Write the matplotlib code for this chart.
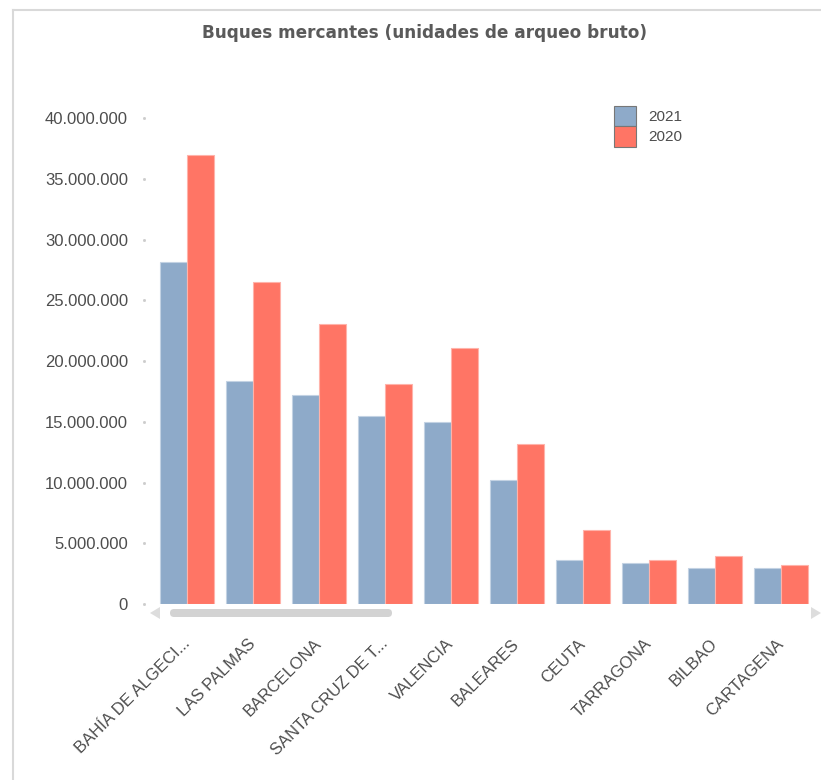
import matplotlib.pyplot as plt
import numpy as np
from matplotlib.patches import Patch, FancyBboxPatch, Polygon
from matplotlib.ticker import FuncFormatter

puertos = ['BAHÍA DE ALGECI...', 'LAS PALMAS', 'BARCELONA', 'SANTA CRUZ DE T...',
           'VALENCIA', 'BALEARES', 'CEUTA', 'TARRAGONA', 'BILBAO', 'CARTAGENA']
valores_2021 = [28200000, 18400000, 17200000, 15500000, 15000000,
                10200000, 3650000, 3350000, 2970000, 2970000]
valores_2020 = [37000000, 26500000, 23100000, 18100000, 21100000,
                13200000, 6070000, 3650000, 3930000, 3240000]
yticks = [0, 5000000, 10000000, 15000000, 20000000, 25000000, 30000000, 35000000, 40000000]

azul = '#8eaac9'
rojo = '#ff7565'
gris_texto = '#4d4d4d'

W, H = 821, 780
fig = plt.figure(figsize=(W / 100, H / 100), dpi=100)
ax = fig.add_axes([154.5 / W, 1 - 604 / H, (813.7 - 154.5) / W, (604 - 118.3) / H])

x = np.arange(len(puertos))
ancho = 0.41
ax.bar(x - ancho / 2, valores_2021, ancho, color=azul, edgecolor='#c3d2e3', linewidth=0.8)
ax.bar(x + ancho / 2, valores_2020, ancho, color=rojo, edgecolor='#ffb3aa', linewidth=0.8)

ax.set_xlim(-0.5, len(puertos) - 0.5)
ax.set_ylim(0, 40000000)
ax.set_yticks(yticks)
ax.yaxis.set_major_formatter(FuncFormatter(lambda v, p: f"{int(v):,}".replace(',', '.')))
ax.set_xticks(x)
ax.set_xticklabels(puertos, rotation=45, ha='right', va='center', rotation_mode='anchor',
                   fontfamily='Liberation Sans', fontsize=12, color=gris_texto)
for lbl in ax.get_yticklabels():
    lbl.set_fontfamily('Liberation Sans')
ax.tick_params(axis='y', length=0, pad=19, labelsize=12, labelcolor=gris_texto)
ax.tick_params(axis='x', length=0, pad=27)
for s in ax.spines.values():
    s.set_visible(False)

# pequeños puntos de las marcas del eje y
for t in yticks:
    ax.plot([-0.66], [t], marker='s', markersize=1, color='#cccccc', clip_on=False)

fig.text(425 / W, 1 - 33 / H, 'Buques mercantes (unidades de arqueo bruto)',
         ha='center', va='center', fontsize=12.2, fontweight='bold', color='#5a5a5a',
         fontfamily='DejaVu Sans')

handles = [Patch(facecolor=azul, edgecolor='#777777', linewidth=0.8, label='2021'),
           Patch(facecolor=rojo, edgecolor='#777777', linewidth=0.8, label='2020')]
fig.legend(handles=handles, loc='upper left', bbox_to_anchor=(614 / W, 1 - 106 / H),
           bbox_transform=fig.transFigure, frameon=False, borderpad=0, borderaxespad=0,
           handlelength=1.45, handleheight=1.67, labelspacing=0, handletextpad=0.8,
           prop={'family': 'Liberation Sans', 'size': 11}, labelcolor=gris_texto)

# barra de desplazamiento y marco
tf = fig.transFigure
fig.patches.append(FancyBboxPatch((170 / W, 1 - 617 / H), 222 / W, 8 / H,
                                  boxstyle='round,pad=0,rounding_size=0.005',
                                  transform=tf, facecolor='#d3d3d3', edgecolor='none'))
fig.patches.append(Polygon([(150 / W, 1 - 613 / H), (160 / W, 1 - 607 / H), (160 / W, 1 - 619 / H)],
                           closed=True, transform=tf, facecolor='#dddddd', edgecolor='none'))
fig.patches.append(Polygon([(821 / W, 1 - 613 / H), (811 / W, 1 - 607 / H), (811 / W, 1 - 619 / H)],
                           closed=True, transform=tf, facecolor='#dddddd', edgecolor='none'))
fig.lines.append(plt.Line2D([13 / W, 13 / W], [0, 1 - 10 / H], transform=tf, color='#d9d9d9', linewidth=1.5))
fig.lines.append(plt.Line2D([13 / W, 1], [1 - 10 / H, 1 - 10 / H], transform=tf, color='#d9d9d9', linewidth=1.5))

fig.savefig('out.png', dpi=100)
